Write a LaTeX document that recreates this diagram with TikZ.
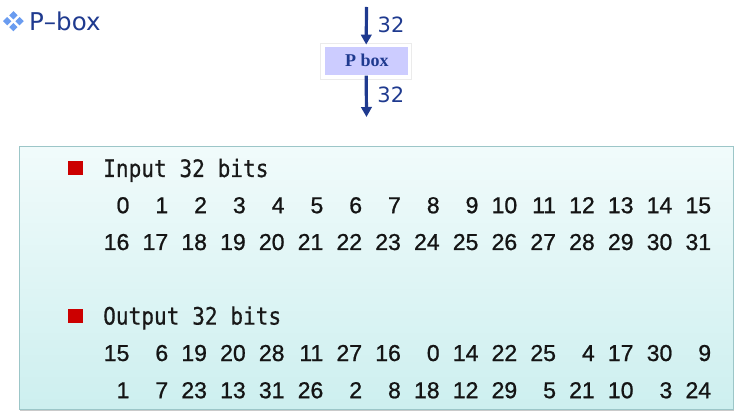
\documentclass[tikz,border=0pt]{standalone}
\usepackage{fontspec}
\setmainfont{DejaVu Sans}
\newfontfamily\numfont[FakeBold=0.9]{Liberation Sans}
\newfontfamily\lblfont[FakeStretch=0.88,FakeBold=0.6]{DejaVu Sans Mono}
\newfontfamily\pboxfont{Liberation Serif}
\usetikzlibrary{arrows.meta,shadows,shapes.geometric}
\definecolor{navy}{HTML}{1F3A8F}
\definecolor{lilac}{HTML}{CCCCFF}
\definecolor{bulletblue}{HTML}{6A9CF0}
\definecolor{redsq}{HTML}{CC0000}
\definecolor{paneltop}{HTML}{F1FBFB}
\definecolor{panelbot}{HTML}{CDEFEF}
\definecolor{panelline}{HTML}{9CC6C8}
\begin{document}
\begin{tikzpicture}[x=1pt,y=-1pt,
  panel/.style={rectangle, draw=panelline, line width=0.8pt, top color=paneltop, bottom color=panelbot,
    minimum width=714pt, minimum height=263pt, inner sep=0pt,
    drop shadow={shadow xshift=1.2pt, shadow yshift=-1.5pt, opacity=0.35, fill=black!60}},
  sqbullet/.style={rectangle, fill=redsq, minimum width=15pt, minimum height=14pt, inner sep=0pt},
  dia/.style={diamond, fill=bulletblue, minimum width=8.5pt, minimum height=8.5pt, inner sep=0pt},
  lbl/.style={anchor=base west, inner sep=0pt, font=\lblfont\fontsize{24}{28}\selectfont, text=black!90},
  num/.style={anchor=base east, inner sep=0pt, font=\numfont\fontsize{23}{27}\selectfont, text=black!92},
  bits/.style={anchor=base west, inner sep=0pt, font=\fontsize{21}{25}\selectfont, text=navy},
  arr/.style={-{Triangle[length=10pt,width=10.5pt]}, line width=3.2pt, draw=navy},
  pframe/.style={rectangle, fill=white, draw=black!8, line width=0.6pt, minimum width=91pt, minimum height=36pt, inner sep=0pt,
    drop shadow={shadow xshift=0.5pt, shadow yshift=-1pt, opacity=0.22, fill=black!50}},
  pinner/.style={rectangle, fill=lilac, minimum width=83pt, minimum height=28.3pt, inner sep=0pt}
]
\useasboundingbox (0,0) rectangle (741,419);

% title
\node[dia] (d1) at (13.4,15.3) {};
\node[dia] (d2) at (7.2,21.2) {};
\node[dia] (d3) at (19.6,21.2) {};
\node[dia] (d4) at (13.4,27.1) {};
\node[anchor=base west, inner sep=0pt, font=\fontsize{24.5}{28}\selectfont, text=navy] (title) at (29,30.3) {P–box};

% P box
\node[pframe] (pframe) at (366.2,61.3) {};
\node[pinner] (pbox) at (366.4,60.9) {};
\node[anchor=base, inner sep=0pt, font=\pboxfont\bfseries\fontsize{18}{20}\selectfont, text=navy] (ptext) at (366.8,66.7) {P box};
\coordinate (a1) at (366.5,7);
\coordinate (a2) at (366.5,117);
\draw[arr] (a1) -- ([yshift=-1.6pt]pframe.north);
\draw[arr] ([yshift=4pt]pframe.south) -- (a2);
\node[bits] (n32a) at (377.5,32.8) {32};
\node[bits] (n32b) at (377.2,103) {32};

% panel
\node[panel] (panel) at (376.2,277.8) {};
\node[sqbullet] (b1) at (75.8,168) {};
\node[sqbullet] (b2) at (75.8,316.2) {};
\node[lbl] (inlbl) at (103,177) {Input 32 bits};
\node[lbl] (outlbl) at (103,324.6) {Output 32 bits};

\foreach \v [count=\i from 0] in {0,1,2,3,4,5,6,7,8,9,10,11,12,13,14,15}
  \node[num] (ra\i) at ({129.6+38.78*\i},213.2) {\v};
\foreach \v [count=\i from 0] in {16,17,18,19,20,21,22,23,24,25,26,27,28,29,30,31}
  \node[num] (rb\i) at ({129.6+38.78*\i},250) {\v};
\foreach \v [count=\i from 0] in {15,6,19,20,28,11,27,16,0,14,22,25,4,17,30,9}
  \node[num] (rc\i) at ({129.6+38.78*\i},361) {\v};
\foreach \v [count=\i from 0] in {1,7,23,13,31,26,2,8,18,12,29,5,21,10,3,24}
  \node[num] (rd\i) at ({129.6+38.78*\i},398.2) {\v};
\end{tikzpicture}
\end{document}
